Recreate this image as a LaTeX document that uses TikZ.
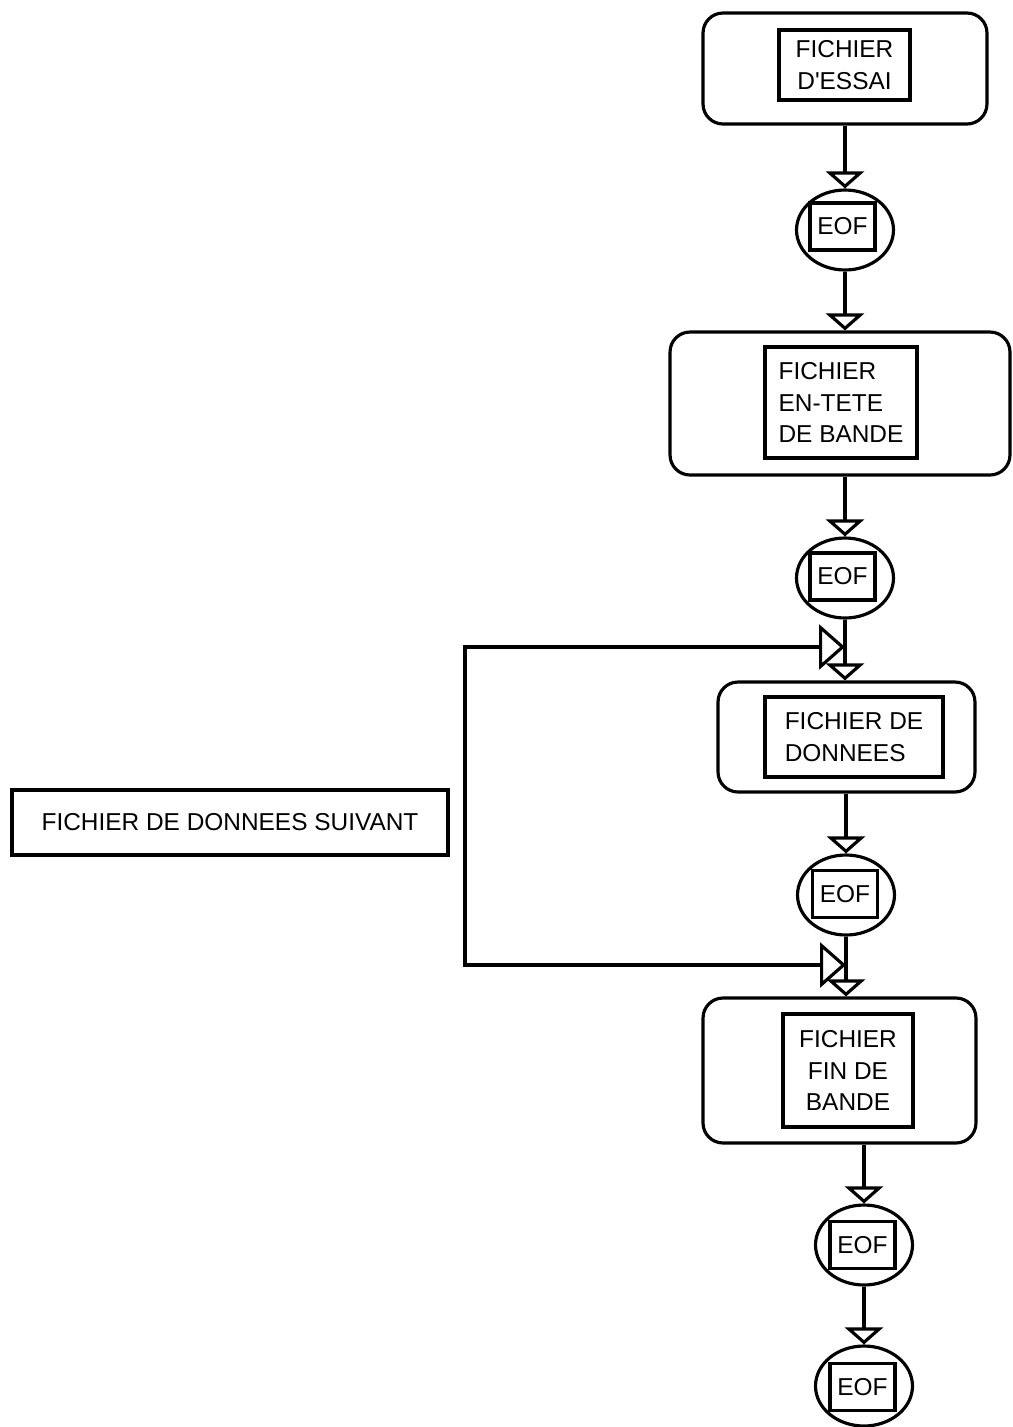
\documentclass[tikz,border=0pt]{standalone}
\usepackage{fontspec}
\setmainfont{Liberation Sans}
\usetikzlibrary{shapes.geometric,arrows.meta}
\tikzset{
  filebox/.style={rectangle, draw, rounded corners=0.4cm, line width=1.8pt, inner sep=0pt},
  namebox/.style={rectangle, draw, line width=1.8pt, inner sep=0pt, font=\fontsize{13.9}{18}\selectfont},
  eofshape/.style={ellipse, draw, line width=1.8pt, minimum width=1.94cm, minimum height=1.6cm, inner sep=0pt},
  eofbox/.style={namebox, minimum width=1.3cm, minimum height=0.94cm},
  flow/.style={line width=1.8pt, -{Triangle[open, length=0.34cm, width=0.76cm]}},
  loopflow/.style={line width=1.8pt, {Triangle[open, length=0.52cm, width=0.9cm]}-{Triangle[open, length=0.52cm, width=0.9cm]}},
}

\begin{document}
\begin{tikzpicture}[x=0.02cm, y=-0.02cm]
  \useasboundingbox (0,0) rectangle (1012,1427);

  % fichier d'essai
  \node[filebox, minimum width=5.68cm, minimum height=2.22cm] (essai) at (845,68.5) {};
  \node[namebox, minimum width=2.62cm, minimum height=1.4cm, align=center] (essaitxt) at (844.5,65) {FICHIER\\D\textquotesingle ESSAI};
  \node[eofshape] (essaieof) at (845,230) {};
  \node[eofbox] (essaieoftxt) at (842.5,226.5) {EOF};

  % en-tete de bande
  \node[filebox, minimum width=6.8cm, minimum height=2.86cm] (entete) at (840,403.5) {};
  \node[namebox, minimum width=3.04cm, minimum height=2.22cm, align=left] (entetetxt) at (841,402.5) {FICHIER\\EN-TETE\\DE BANDE};
  \node[eofshape] (enteteeof) at (845,578) {};
  \node[eofbox] (enteteeoftxt) at (842.5,576.5) {EOF};

  % donnees
  \node[filebox, minimum width=5.14cm, minimum height=2.2cm] (donnees) at (846.5,737) {};
  \node[namebox, minimum width=3.56cm, minimum height=1.6cm, align=left] (donneestxt) at (854,737) {FICHIER DE\\DONNEES};
  \node[eofshape] (donneeseof) at (846,895) {};
  \node[eofbox] (donneeseoftxt) at (845,894) {EOF};

  % fin de bande
  \node[filebox, minimum width=5.46cm, minimum height=2.9cm] (fin) at (839.5,1070.5) {};
  \node[namebox, minimum width=2.6cm, minimum height=2.26cm, align=center] (fintxt) at (848,1070.5) {FICHIER\\FIN DE\\BANDE};
  \node[eofshape] (fineof) at (864,1245) {};
  \node[eofbox] (fineoftxt) at (862.5,1245) {EOF};
  \node[eofshape] (fineofb) at (864,1386) {};
  \node[eofbox] (fineofbtxt) at (862.5,1387) {EOF};

  % fichier suivant
  \node[namebox, minimum width=8.72cm, minimum height=1.3cm] (suivant) at (230,822.5) {FICHIER DE DONNEES SUIVANT};

  % main flow
  \draw[flow] (essai.south -| essaieof) -- (essaieof.north);
  \draw[flow] (essaieof.south) -- (essaieof.south |- entete.north);
  \draw[flow] (entete.south -| enteteeof) -- (enteteeof.north);
  \draw[flow] (enteteeof.south) -- (enteteeof.south |- donnees.north);
  \draw[flow] (donnees.south -| donneeseof) -- (donneeseof.north);
  \draw[flow] (donneeseof.south) -- (donneeseof.south |- fin.north);
  \draw[flow] (fin.south -| fineof) -- (fineof.north);
  \draw[flow] (fineof.south) -- (fineofb.north);

  % loop back
  \coordinate (backin) at (845,647);
  \coordinate (backout) at (846,965);
  \coordinate (loopcorner) at (465,647);
  \draw[loopflow] (backin) -- (loopcorner) |- (backout);
\end{tikzpicture}
\end{document}
